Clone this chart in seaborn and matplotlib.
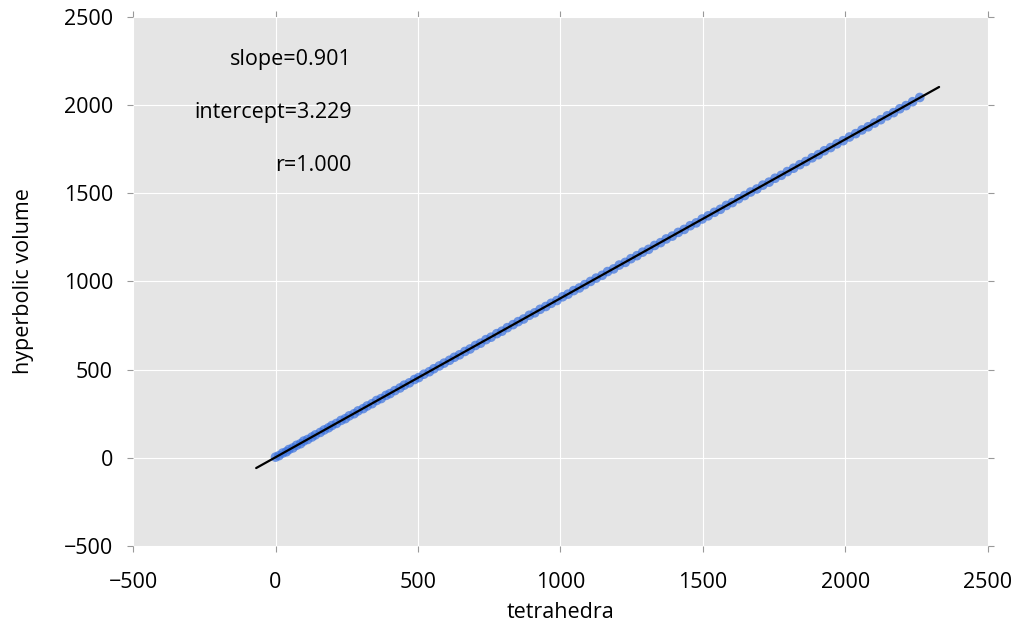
import numpy as np
import pandas as pd
import seaborn as sns
import matplotlib
matplotlib.use('Agg')
import matplotlib.pyplot as plt

# data
tetrahedra = [0, 12, 25, 38, 47, 61, 74, 88, 99, 113, 128, 140, 157, 171, 186, 198, 214, 230, 245, 259,
              276, 290, 308, 322, 339, 355, 371, 388, 402, 419, 437, 452, 470, 488, 503, 521, 540, 556, 575, 592,
              611, 628, 646, 665, 683, 702, 720, 739, 757, 777, 795, 814, 834, 852, 871, 891, 910, 929, 949, 968,
              988, 1008, 1027, 1047, 1067, 1086, 1106, 1126, 1147, 1166, 1187, 1207, 1228, 1248, 1269, 1289, 1310,
              1331, 1352, 1372, 1393, 1414, 1435, 1456, 1477, 1498, 1519, 1541, 1562, 1583, 1604, 1626, 1647, 1668,
              1690, 1711, 1733, 1754, 1776, 1797, 1819, 1841, 1862, 1884, 1906, 1927, 1949, 1971, 1993, 2015, 2037,
              2059, 2081, 2103, 2125, 2148, 2170, 2192, 2214, 2237, 2262]
volume = [4, 12, 27, 34, 47, 56, 71, 80, 95, 104, 118, 130, 144, 158, 170, 183, 195, 212, 222, 238,
          250, 266, 279, 294, 307, 325, 336, 354, 364, 381, 396, 412, 425, 444, 455, 474, 488, 505, 521, 537,
          553, 570, 584, 603, 617, 637, 650, 670, 684, 704, 718, 738, 755, 772, 787, 808, 822, 842, 858, 876,
          892, 913, 928, 948, 963, 982, 1000, 1019, 1035, 1056, 1071, 1093, 1108, 1129, 1146, 1166, 1182,
          1204, 1220, 1241, 1257, 1278, 1295, 1316, 1332, 1354, 1372, 1392, 1409, 1431, 1447, 1469, 1487, 1507,
          1524, 1546, 1563, 1585, 1602, 1623, 1642, 1662, 1680, 1701, 1719, 1741, 1759, 1780, 1798, 1819, 1838,
          1859, 1877, 1898, 1917, 1939, 1957, 1979, 1997, 2019, 2043]
stats_text = ['slope=0.901', 'intercept=3.229', 'r=1.000']

df = pd.DataFrame({'tetrahedra': tetrahedra, 'hyperbolic volume': volume})

sns.set_style('darkgrid', {'axes.facecolor': '#e5e5e5', 'grid.color': 'white'})
plt.rcParams['font.family'] = ['Open Sans', 'DejaVu Sans']
plt.rcParams['text.color'] = 'black'
plt.rcParams['axes.labelcolor'] = 'black'
plt.rcParams['axes.xmargin'] = 0.03
plt.rcParams['axes.ymargin'] = 0.03

fig = plt.figure(figsize=(10.16, 6.25), dpi=100)
ax = fig.add_axes([0.131, 0.1264, 0.841, 0.8466])

sns.regplot(data=df, x='tetrahedra', y='hyperbolic volume', ax=ax, ci=None, truncate=False,
            scatter_kws={'color': '#3a72e0', 'alpha': 0.7, 's': 48, 'edgecolor': 'none'},
            line_kws={'color': 'black', 'lw': 1.6})

ax.set_xlim(-500, 2500)
ax.set_ylim(-500, 2500)
ax.set_xticks(range(-500, 2501, 500))
ax.set_yticks(range(-500, 2501, 500))
ax.tick_params(which='both', direction='out', length=4, color='#999999', labelcolor='black', labelsize=15.5,
               top=True, right=True, bottom=True, left=True, labeltop=False, labelright=False)
ax.tick_params(axis='x', pad=15)
ax.tick_params(axis='y', pad=10.5)
for s in ax.spines.values():
    s.set_visible(False)
ax.grid(True, color='white', lw=0.8)
ax.set_xlabel('tetrahedra', fontsize=15.5, labelpad=6)
ax.set_ylabel('hyperbolic volume', fontsize=15.5, labelpad=21)

for i, t in enumerate(stats_text):
    ax.text(0.256, 0.919 - 0.0995 * i, t, transform=ax.transAxes, ha='right', va='center', fontsize=15.5)

fig.savefig('out.png', dpi=100)
